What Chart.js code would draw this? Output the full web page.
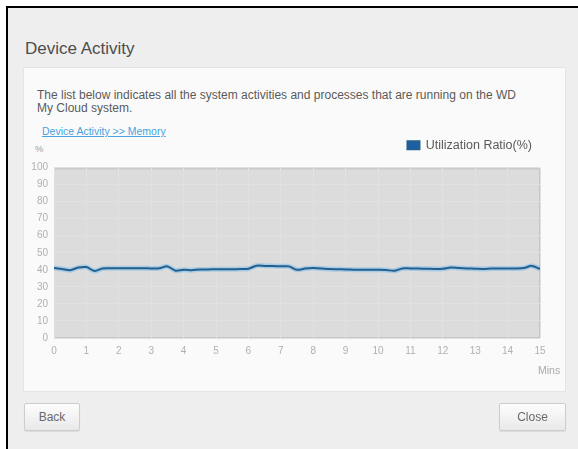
<!DOCTYPE html>
<html>
<head>
<meta charset="utf-8">
<title>Device Activity</title>
<script src="https://cdn.jsdelivr.net/npm/chart.js@4.4.1/dist/chart.umd.min.js"></script>
<style>
    html, body {
        margin: 0;
        padding: 0;
        width: 578px;
        height: 449px;
        overflow: hidden;
        background: #ffffff;
        font-family: "Liberation Sans", Arial, sans-serif;
    }
    .dialog {
        position: absolute;
        left: 6px;
        top: 6px;
        right: 0;
        bottom: 0;
        background: #eeeeee;
        border-left: 2px solid #000;
        border-top: 2px solid #000;
    }
    .abs { position: absolute; white-space: nowrap; }
    .title { left: 25px; top: 40px; font-size: 17px; line-height: 17px; color: #4d4d4d; }
    .panel {
        left: 23px; top: 67px; width: 541px; height: 323px;
        background: #fafafa;
        border: 1px solid #e4e4e4;
    }
    .desc { left: 37px; top: 89px; font-size: 12px; line-height: 13px; color: #5a5a5a; }
    .link { left: 42px; top: 126px; font-size: 10.5px; line-height: 10.5px; color: #4aa3e0; text-decoration: underline; }
    .unit { left: 35px; top: 144px; font-size: 9.5px; line-height: 9.5px; color: #a0a0a0; }
    .mins { left: 538px; top: 365px; font-size: 10.5px; line-height: 10.5px; color: #aaa; }
    #chartBox { position: absolute; left: 23px; top: 131px; width: 542px; height: 237px; }
    .btn {
        position: absolute;
        top: 403px;
        height: 28px;
        box-sizing: border-box;
        border: 1px solid #cdcdcd;
        border-radius: 2px;
        background: linear-gradient(#fdfdfd, #e9e9e9);
        box-shadow: 0 1px 1px rgba(0,0,0,0.08);
        color: #6a6a6a;
        font-size: 12px;
        line-height: 26px;
        text-align: center;
    }
</style>
</head>
<body>
<div class="dialog"></div>
<div class="abs title">Device Activity</div>
<div class="abs panel"></div>
<div class="abs desc">The list below indicates all the system activities and processes that are running on the WD<br>My Cloud system.</div>
<div class="abs link">Device Activity &gt;&gt; Memory</div>
<div class="abs unit">%</div>
<div id="chartBox"><canvas id="memoryChart"></canvas></div>
<div class="abs mins">Mins</div>
<div class="btn" style="left:24px; width:56px;">Back</div>
<div class="btn" style="left:499px; width:67px;">Close</div>

<script>
// time in minutes, sampled every 15 s
const minutes = [
    0, 0.25, 0.5, 0.75, 1, 1.25, 1.5, 1.75, 2, 2.25, 2.5, 2.75, 3, 3.25, 3.5, 3.75,
    4, 4.25, 4.5, 4.75, 5, 5.25, 5.5, 5.75, 6, 6.25, 6.5, 6.75, 7, 7.25, 7.5, 7.75,
    8, 8.25, 8.5, 8.75, 9, 9.25, 9.5, 9.75, 10, 10.25, 10.5, 10.75, 11, 11.25, 11.5, 11.75,
    12, 12.25, 12.5, 12.75, 13, 13.25, 13.5, 13.75, 14, 14.25, 14.5, 14.75, 15
];
// memory utilization ratio (%)
const utilization = [
    41.1, 40.5, 39.8, 41.3, 41.6, 39.3, 40.8, 40.9, 40.9, 40.9, 40.9, 40.9, 40.8, 40.9, 42.0, 39.5,
    40.0, 39.8, 40.2, 40.2, 40.3, 40.3, 40.3, 40.4, 40.6, 42.4, 42.3, 42.2, 42.1, 42.0, 40.0, 40.7,
    41.0, 40.8, 40.4, 40.3, 40.2, 40.1, 40.0, 40.0, 40.0, 39.9, 39.4, 40.8, 40.8, 40.7, 40.6, 40.5,
    40.6, 41.3, 41.0, 40.8, 40.6, 40.5, 40.8, 40.8, 40.8, 40.8, 41.0, 42.3, 40.5
];
const seriesLabel = 'Utilization Ratio(%)';
const yTicks = [0, 10, 20, 30, 40, 50, 60, 70, 80, 90, 100];
const xTicks = [0, 1, 2, 3, 4, 5, 6, 7, 8, 9, 10, 11, 12, 13, 14, 15];

const points = minutes.map((m, i) => ({ x: m, y: utilization[i] }));

// gray plot background with border
const plotBackground = {
    id: 'plotBackground',
    beforeDraw(chart) {
        const { ctx, chartArea: a } = chart;
        ctx.save();
        ctx.fillStyle = '#dcdcdc';
        ctx.fillRect(a.left, a.top, a.right - a.left, a.bottom - a.top);
        ctx.strokeStyle = '#c6c6c6';
        ctx.lineWidth = 1;
        ctx.strokeRect(a.left + 0.5, a.top + 0.5, a.right - a.left - 1, a.bottom - a.top - 1);
        ctx.fillStyle = '#c9c9c9';
        ctx.fillRect(a.left, a.top, a.right - a.left, 2);
        ctx.restore();
    }
};

new Chart('memoryChart', {
    type: 'line',
    data: {
        datasets: [{
            label: seriesLabel,
            data: points,
            borderColor: '#22608f',
            backgroundColor: '#1d5fa5',
            borderWidth: 2,
            pointRadius: 0,
            tension: 0.3,
            order: 0
        }, {
            label: 'glow',
            data: points,
            borderColor: 'rgba(120, 185, 235, 0.5)',
            borderWidth: 5,
            pointRadius: 0,
            tension: 0.3,
            order: 1
        }]
    },
    options: {
        responsive: true,
        maintainAspectRatio: false,
        animation: false,
        layout: { padding: { left: 0, right: 25, top: 0, bottom: 0 } },
        plugins: {
            legend: {
                position: 'top',
                align: 'end',
                labels: {
                    filter: (item) => item.datasetIndex === 0,
                    boxWidth: 12,
                    boxHeight: 8,
                    padding: 8,
                    color: '#5a5a5a',
                    font: { family: '"Liberation Sans", Arial, sans-serif', size: 12.5 }
                }
            },
            tooltip: { enabled: false }
        },
        scales: {
            x: {
                type: 'linear',
                min: 0,
                max: 15,
                afterBuildTicks: (s) => { s.ticks = xTicks.map(v => ({ value: v })); },
                afterFit: (s) => { s.height = 30; },
                grid: { color: '#e1e1e1', drawTicks: false },
                border: { display: false },
                ticks: {
                    padding: 7,
                    color: '#b0b0b0',
                    font: { family: '"Liberation Sans", Arial, sans-serif', size: 10 }
                }
            },
            spacer: {
                type: 'linear',
                axis: 'x',
                position: 'top',
                afterFit: (s) => { s.height = 6; },
                grid: { display: false },
                border: { display: false },
                ticks: { display: false }
            },
            y: {
                min: 0,
                max: 100,
                afterBuildTicks: (s) => { s.ticks = yTicks.map(v => ({ value: v })); },
                afterFit: (s) => { s.width = 31; },
                grid: { color: '#e1e1e1', drawTicks: false },
                border: { display: false },
                ticks: {
                    padding: 6,
                    color: '#b0b0b0',
                    font: { family: '"Liberation Sans", Arial, sans-serif', size: 10 }
                }
            }
        }
    },
    plugins: [plotBackground]
});
</script>
</body>
</html>
